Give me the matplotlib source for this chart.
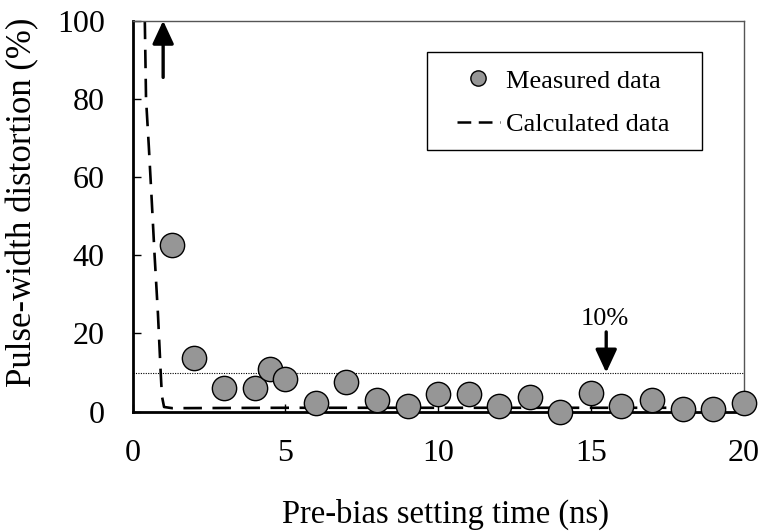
import matplotlib
matplotlib.use("Agg")
import matplotlib.pyplot as plt
from matplotlib.lines import Line2D
from matplotlib.patches import Rectangle

plt.rcParams['font.family'] = ['Liberation Serif', 'DejaVu Serif']

# Measured data
meas_x = [1.3, 2, 3, 4, 4.5, 5, 6, 7, 8, 9, 10, 11, 12, 13, 14, 15, 16, 17, 18, 19, 20]
meas_y = [42.6, 13.8, 6.0, 6.0, 10.8, 8.4, 2.1, 7.7, 3.0, 1.5, 4.5, 4.5, 1.5, 3.8, -0.2, 4.7, 1.5, 3.0, 0.6, 0.6, 2.1]

# Calculated data
calc_x = [0.40, 0.44, 0.53, 0.62, 0.72, 0.83, 0.92, 0.96, 1.03, 1.3, 5, 10, 15, 20]
calc_y = [100, 80, 68, 55, 40, 25, 10, 4, 1.2, 0.9, 1.0, 1.0, 1.0, 1.0]

threshold = 10
x_ticks = [0, 5, 10, 15, 20]
y_ticks = [0, 20, 40, 60, 80, 100]

fig = plt.figure(figsize=(7.62, 5.31), dpi=100)
ax = fig.add_axes([0.174, 0.2247, 0.802, 0.7363])

ax.axhline(threshold, color='black', lw=0.8, ls=(0, (1, 1.2)), zorder=1)
ax.plot(calc_x, calc_y, color='black', lw=1.9, dashes=(7, 4), zorder=2, label='Calculated data')
ax.plot(meas_x, meas_y, ls='none', marker='o', ms=17.5, mfc='#969696', mec='black', mew=1.0,
        zorder=3, label='Measured data', clip_on=False)

ax.set_xlim(0, 20)
ax.set_ylim(0, 100)
ax.set_xticks(x_ticks)
ax.set_yticks(y_ticks)
ax.tick_params(direction='in', length=6, width=1, labelsize=23, colors='black')
ax.tick_params(axis='y', pad=20)
ax.tick_params(axis='x', pad=20)

for s in ['left', 'bottom']:
    ax.spines[s].set_linewidth(2)
    ax.spines[s].set_color('black')
for s in ['top', 'right']:
    ax.spines[s].set_linewidth(1)
    ax.spines[s].set_color('#555555')

ax.set_xlabel('Pre-bias setting time (ns)', fontsize=23.5, labelpad=22)
ax.xaxis.label.set_x(0.5125)
ax.set_ylabel('Pulse-width distortion (%)', fontsize=25)
ax.yaxis.set_label_coords(-0.152, 0.536)

# arrows
astyle = '-|>,head_width=0.65,head_length=1.4'
ax.annotate('', xy=(1.0, 100), xytext=(1.0, 85.5),
            arrowprops=dict(arrowstyle=astyle, color='black', lw=2.4,
                            shrinkA=0, shrinkB=0), annotation_clip=False)
ax.annotate('', xy=(15.5, 10), xytext=(15.5, 20.4),
            arrowprops=dict(arrowstyle=astyle, color='black', lw=2.4,
                            shrinkA=0, shrinkB=0))
ax.text(15.45, 21.0, '10%', ha='center', va='bottom', fontsize=19)

# legend frame
ax.add_patch(Rectangle((0.481, 0.669), 0.45, 0.251, transform=ax.transAxes,
                       facecolor='white', edgecolor='black', lw=1.0, zorder=4))
handles = [Line2D([], [], ls='none', marker='o', ms=11, mfc='#969696', mec='black', mew=1.0),
           Line2D([], [], color='black', lw=1.8, dashes=(5.5, 3))]
leg = ax.legend(handles, ['Measured data', 'Calculated data'], loc='upper left',
                bbox_to_anchor=(0.5305, 0.876), fontsize=19, frameon=False,
                handlelength=1.63, handletextpad=0.23, borderpad=0,
                labelspacing=0.77, borderaxespad=0)
leg.set_zorder(5)

fig.savefig('out.png', dpi=100)
